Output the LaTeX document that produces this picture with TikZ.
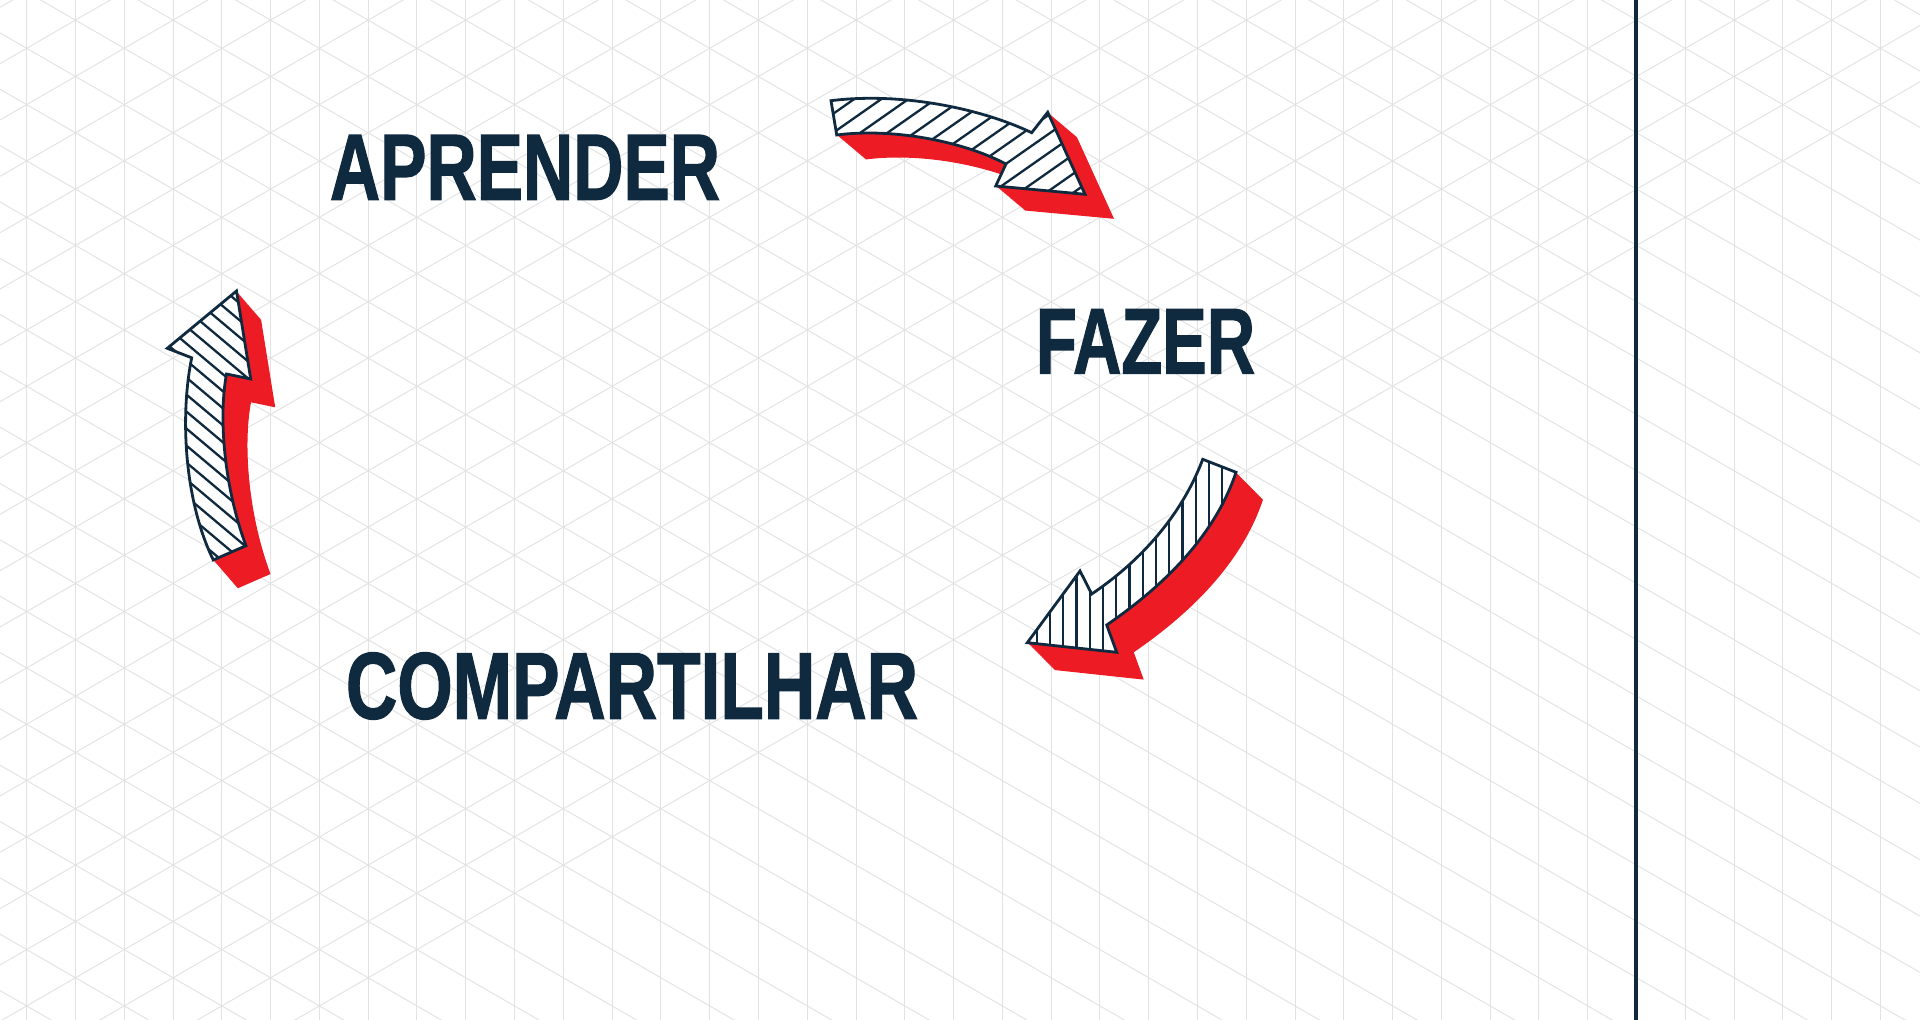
\documentclass[tikz,border=0pt]{standalone}
\usepackage{fontspec}
\setmainfont{Liberation Sans}
\newfontfamily\lblfont{Liberation Sans}[BoldFeatures={FakeBold=1.5}]
\usepackage{graphicx}
\definecolor{navy}{RGB}{15,42,63}
\definecolor{ared}{RGB}{237,28,36}
\definecolor{gridc}{RGB}{226,226,226}
\tikzset{
  gridline/.style={draw=gridc, line width=0.45pt},
  wordlabel/.style={inner sep=0pt, outer sep=0pt, text=navy, font=\lblfont\bfseries},
  faceline/.style={draw=navy, line width=1.4pt, line join=miter, miter limit=20},
  hatchline/.style={draw=navy, line width=1.15pt},
  extr/.style={fill=ared},
  divider/.style={draw=navy, line width=2pt},
}
% top arrow (APRENDER -> FAZER)
\def\faceA{(831,100.7) .. controls (900,92) and (980,108) .. (1031.7,132.7) -- (1047.7,112.3) -- (1085,194.3) -- (995.7,186) -- (1006,164) .. controls (960,140) and (890,128) .. (836.7,135) -- cycle}
% left arrow (COMPARTILHAR -> APRENDER)
\def\faceB{(236.5,291) -- (250.7,379) -- (226.5,374) .. controls (218,420) and (225,490) .. (246,545.7) -- (213.3,560) .. controls (184,500) and (180,415) .. (191.7,357.8) -- (167.3,348.3) -- cycle}
\def\clipB{(236.5,270) -- (236.5,291) -- (191.7,357.8) .. controls (180,415) and (184,500) .. (213.3,560) -- (245,610) -- (320,610) -- (320,270) -- cycle}
% right arrow (FAZER -> COMPARTILHAR)
\def\faceC{(1202.7,459.3) -- (1236,472.3) .. controls (1215,535) and (1165,585) .. (1106.7,625) -- (1116.7,652.3) -- (1027.3,642.7) -- (1080,571) -- (1091.7,594) .. controls (1135,565) and (1180,520) .. cycle}
\def\clipC{(1027.3,642.7) -- (1091.7,594) .. controls (1135,565) and (1180,520) .. (1202.7,459.3) -- (1202.7,430) -- (1310,430) -- (1310,710) -- (1062,710) -- cycle}
\begin{document}
\begin{tikzpicture}[x=0.5pt,y=-0.5pt]
\useasboundingbox (0,0) rectangle (1920,1020);
\fill[white] (0,0) rectangle (1920,1020);
\begin{scope}
\clip (0,0) rectangle (1920,1020);
\foreach \k in {0,...,39} \draw[gridline] ({26.7+48.78*\k},0) -- ({26.7+48.78*\k},1020);
\foreach \m in {-21,...,18} \draw[gridline] (0,{32.9+56.33*\m}) -- (1920,{32.9+56.33*\m+1108.5});
\foreach \m in {-2,...,20} \draw[gridline] (0,{63.7+56.33*\m}) -- (1920,{63.7+56.33*\m-1108.5});
\end{scope}
\coordinate (divtop) at (1636.3,0);
\coordinate (divbot) at (1636.3,1020);
\draw[divider] (divtop) -- (divbot);
% extrusions
\foreach \i in {0,...,40} {
  \fill[extr, shift={({\i*29/40},{\i*24.5/40})}] \faceA;
}
\begin{scope}
\clip \clipB;
\foreach \i in {0,...,40} {
  \fill[extr, shift={({\i*24.5/40},{\i*28.3/40})}] \faceB;
}
\end{scope}
\begin{scope}
\clip \clipC;
\foreach \i in {0,...,40} {
  \fill[extr, shift={({\i*27/40},{\i*27.3/40})}] \faceC;
}
\end{scope}
% faces with hatching
\begin{scope}
\clip \faceA;
\fill[white] (800,80) rectangle (1110,210);
\foreach \i in {0,...,16} \draw[hatchline] (820,{640+19*\i-574}) -- (1100,{640+19*\i-770});
\end{scope}
\draw[faceline] \faceA;
\begin{scope}
\clip \faceB;
\fill[white] (150,280) rectangle (270,570);
\foreach \i in {0,...,18} \draw[hatchline] (150,{126+85+17*\i}) -- (280,{235.2+85+17*\i});
\end{scope}
\draw[faceline] \faceB;
\begin{scope}
\clip \faceC;
\fill[white] (1020,450) rectangle (1245,660);
\foreach \k in {0,...,17} \draw[hatchline] ({1023.4+13.25*\k},440) -- ({1023.4+13.25*\k},670);
\end{scope}
\draw[faceline] \faceC;
% labels
\node[wordlabel] (aprender) at (525,167.3) {\resizebox{195pt}{32.25pt}{APRENDER}};
\node[wordlabel] (fazer) at (1145.5,341.3) {\resizebox{109.5pt}{32pt}{FAZER}};
\node[wordlabel] (compartilhar) at (632,686) {\resizebox{286pt}{33pt}{COMPARTILHAR}};
\end{tikzpicture}
\end{document}
